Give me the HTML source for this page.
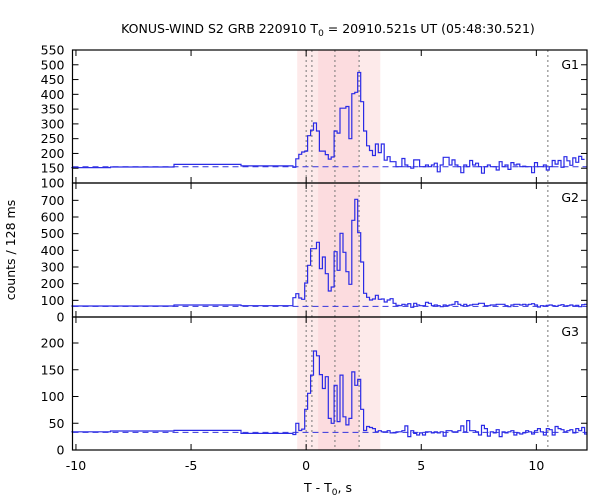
<!DOCTYPE html>
<html><head><meta charset="utf-8"><style>
html,body{margin:0;padding:0;background:#fff;}
svg{display:block;font-family:"DejaVu Sans","Liberation Sans",sans-serif;}
</style></head><body>
<svg id="chart" width="600" height="500" viewBox="0 0 600 500">
<text x="328" y="33" font-size="12.5" text-anchor="middle">KONUS-WIND S2 GRB 220910 T<tspan font-size="9" dy="3">0</tspan><tspan dy="-3"> = 20910.521s UT (05:48:30.521)</tspan></text>
<text transform="translate(15,250) rotate(-90)" font-size="12.5" text-anchor="middle">counts / 128 ms</text>
<text x="328" y="492" font-size="12.5" text-anchor="middle">T - T<tspan font-size="9" dy="3">0</tspan><tspan dy="-3">, s</tspan></text>
</svg>
<script>
// ---- data ----
const coarseEdges = [-10.2, -8.5, -5.74, -2.83, -0.576];
const fineStart = -0.576;
const binWidth = 0.128;
const g1Coarse = [152, 154, 163, 158];
const g2Coarse = [66, 66, 72, 68];
const g3Coarse = [34, 35.5, 36.7, 31];
const g1Fine = [153,182,197,205,208,260,279,303,276,208,208,196,181,188,276,269,353,353,359,250,402,407,474,375,276,226,210,193,232,203,232,177,
189,172,172,155,155,183,161,155,150,178,178,155,155,161,155,161,167,138,161,187,187,161,178,161,155,135,161,155,176,161,167,155,133,155,161,155,155,144,172,155,161,146,169,161,164,155,157,155,155,135,169,155,155,161,144,155,176,164,176,153,189,175,160,185,170,190,180];
const g2Fine = [116,140,114,106,204,310,410,410,448,290,360,260,156,180,392,280,502,388,272,196,580,706,506,330,142,118,102,108,130,106,108,90,
102,110,82,70,68,76,72,80,58,82,72,68,68,88,82,68,72,68,62,72,68,72,76,92,76,68,76,68,72,76,76,82,82,68,68,72,72,76,76,76,68,62,72,76,76,72,76,72,76,80,72,60,68,66,70,
72,68,64,70,74,66,68,72,66,70,62,74,76,68,60,66,72,78,70,82];
const g3Fine = [29,50,36.5,39,76,106,140,185,176,141,115,137,59,50,121,53,140,62,47,59,146,121,132,76,36.5,44,42,40,34,36,34,34,
36,32,32,34,34,36,45,25,36,31,28,32,28,34,34,32,34,32,34,26,36,36,34,34,36,45,34,55,36,36,34,28,46,40,26,34,32,38,25,34,32,34,36,28,32,30,32,36,34,30,36,40,34,28,40,38,28,44,40,38,
34,36,38,32,40,36,42,30,38,36,44,38,30,42,34,46,36,40,38,42];
const bgLevels = [155, 64, 33];
const panelLabels = ["G1","G2","G3"];
const xTicks = [-10,-5,0,5,10];
const g1Ticks = [100,150,200,250,300,350,400,450,500,550];
const g2Ticks = [0,100,200,300,400,500,600,700];
const g3Ticks = [0,50,100,150,200];
const markerLines = [0, 0.25, 1.25, 2.3, 10.5];
const lightBand = [-0.39, 3.22];
const darkBand = [0.52, 2.3];

// ---- layout ----
const X0 = 72.5, X1 = 587, xMin = -10.15, xMax = 12.2;
const sx = t => X0 + (t - xMin) / (xMax - xMin) * (X1 - X0);
const panels = [
 {top:50, bot:183, lo:100, hi:550, coarse:g1Coarse, fine:g1Fine, ticks:g1Ticks},
 {top:183, bot:317, lo:0, hi:804, coarse:g2Coarse, fine:g2Fine, ticks:g2Ticks},
 {top:317, bot:450, lo:0, hi:248.6, coarse:g3Coarse, fine:g3Fine, ticks:g3Ticks}
];
const NS = "http://www.w3.org/2000/svg";
const svg = document.getElementById('chart');
function mk(tag, attrs, parent){
  const e = document.createElementNS(NS, tag);
  for (const k in attrs) e.setAttribute(k, attrs[k]);
  (parent||svg).appendChild(e); return e;
}
let b1 = mk('rect',{x:sx(lightBand[0]),y:50,width:sx(lightBand[1])-sx(lightBand[0]),height:400,fill:'#fdeaea'});


let b2 = mk('rect',{x:sx(darkBand[0]),y:50,width:sx(darkBand[1])-sx(darkBand[0]),height:400,fill:'#fcdcdf'});


markerLines.forEach(t=>{
  const l = mk('line',{x1:sx(t),x2:sx(t),y1:50,y2:450,stroke:'#777','stroke-width':1,'stroke-dasharray':'2,3'});
  
  
});
panels.forEach((p,i)=>{
  const sy = v => p.bot - (v - p.lo)/(p.hi - p.lo)*(p.bot - p.top);
  const clampY = v => Math.max(p.top, Math.min(p.bot, sy(v)));
  const bg = mk('line',{x1:X0,x2:X1,y1:sy(bgLevels[i]),y2:sy(bgLevels[i]),stroke:'#3333dd','stroke-width':1,'stroke-dasharray':'6,4'});
  
  
  let d = '';
  p.coarse.forEach((v,k)=>{
    const xa = sx(coarseEdges[k]), xb = sx(coarseEdges[k+1]);
    d += (k===0?'M':'L') + xa.toFixed(1) + ',' + clampY(v).toFixed(1) + 'L' + xb.toFixed(1) + ',' + clampY(v).toFixed(1);
  });
  p.fine.forEach((v,k)=>{
    const ta = fineStart + k*binWidth;
    if (ta >= xMax) return;
    const tb = Math.min(xMax, ta + binWidth);
    d += 'L' + sx(ta).toFixed(1) + ',' + clampY(v).toFixed(1) + 'L' + sx(tb).toFixed(1) + ',' + clampY(v).toFixed(1);
  });
  const path = mk('path',{d:d,fill:'none',stroke:'#2a2ae6','stroke-width':1.2});
  
  
  const fr = mk('rect',{x:X0,y:p.top,width:X1-X0,height:p.bot-p.top,fill:'none',stroke:'#000','stroke-width':1.2});
  
  
  p.ticks.forEach(v=>{
    const y = sy(v);
    mk('line',{x1:X0,x2:X0+6,y1:y,y2:y,stroke:'#000'});
    mk('line',{x1:X1,x2:X1-6,y1:y,y2:y,stroke:'#000'});
    const t = mk('text',{x:X0-8,y:y+4.5,'font-size':12.5,'text-anchor':'end'});
    t.textContent = v;
    
    
  });
  xTicks.forEach(v=>{
    const x = sx(v);
    mk('line',{x1:x,x2:x,y1:p.bot,y2:p.bot-6,stroke:'#000'});
    mk('line',{x1:x,x2:x,y1:p.top,y2:p.top+6,stroke:'#000'});
  });
  const lab = mk('text',{x:X1-8,y:p.top+19,'font-size':12.5,'text-anchor':'end'});
  lab.textContent = panelLabels[i];
  
  
});
xTicks.forEach(v=>{
  const t = mk('text',{x:sx(v),y:470,'font-size':12.5,'text-anchor':'middle'});
  t.textContent = v;
  
  
});
</script>
</body></html>
